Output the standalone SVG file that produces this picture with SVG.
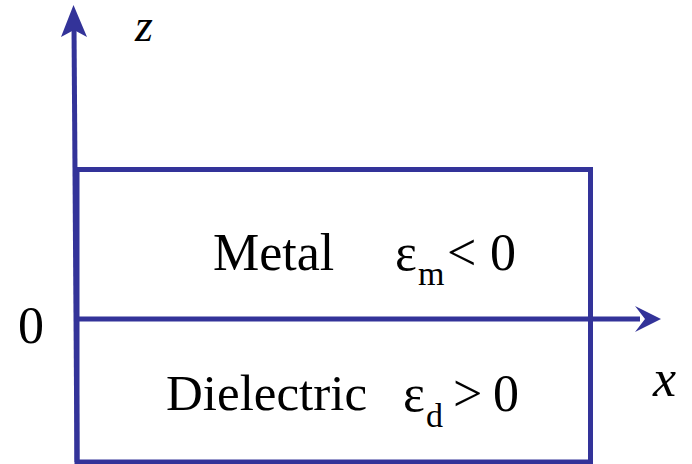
<svg xmlns="http://www.w3.org/2000/svg" width="692" height="464" viewBox="0 0 692 464">
<style>
.ln{stroke:#333399;stroke-width:5;fill:none}
.ah{fill:#333399}
text{font-family:"Liberation Serif","Times New Roman",serif;fill:#000000;font-size:52px}
.it{font-style:italic}
.sub{font-size:34px}
</style>
<rect width="692" height="464" fill="#fff"/>
<g id="layers">
<rect class="ln" x="77" y="169.5" width="513.5" height="292.5"/>
</g>
<g id="connectors">
<line class="ln" x1="77" y1="462" x2="74" y2="26"/>
<path class="ah" d="M73.5,5 L87,37 L74,30 L61,37 Z"/>
<line class="ln" x1="77" y1="319" x2="640" y2="319"/>
<path class="ah" d="M661,319 L635,306 L645,319 L635,332 Z"/>
</g>
<g id="labels">
<text class="it" x="135" y="41" style="font-size:46px">z</text>
<text x="18" y="343">0</text>
<text class="it" x="653" y="396">x</text>
<text x="213" y="270">Metal</text>
<text x="395" y="270">ε</text>
<text class="sub" x="418" y="285">m</text>
<text x="447" y="270">&lt;</text>
<text x="490" y="270">0</text>
<text x="166" y="410" style="font-size:51px">Dielectric</text>
<text x="403" y="411">ε</text>
<text class="sub" x="426" y="427">d</text>
<text x="453" y="411">&gt;</text>
<text x="493" y="411">0</text>
</g>
</svg>
